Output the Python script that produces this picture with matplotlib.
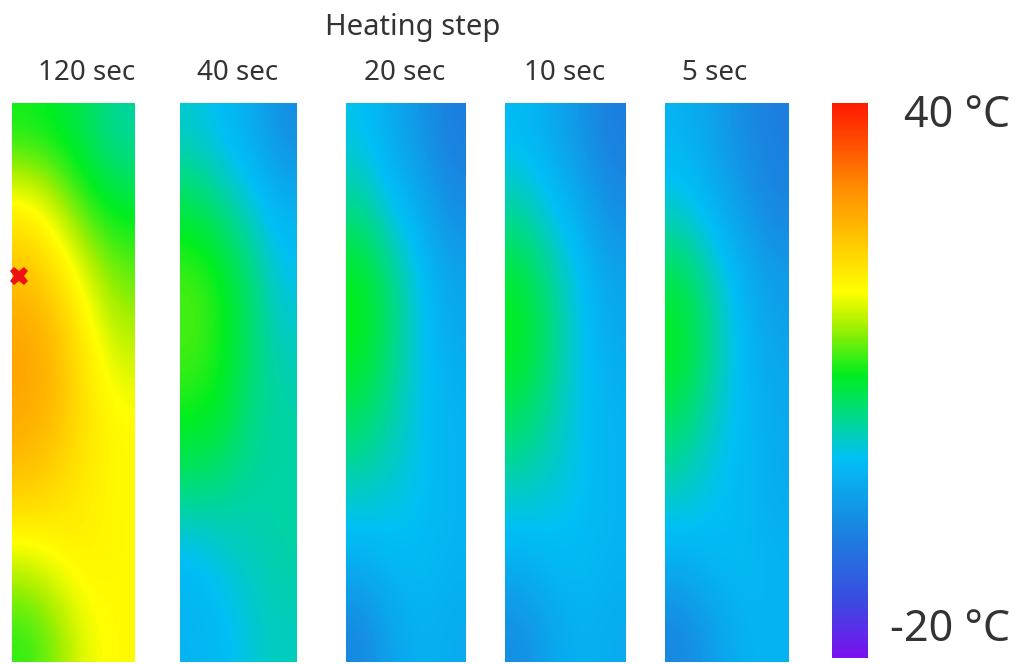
import numpy as np
import matplotlib.pyplot as plt
from matplotlib.colors import LinearSegmentedColormap

# heating step durations shown above each panel
steps = ['120 sec', '40 sec', '20 sec', '10 sec', '5 sec']

# temperature fields (deg C), coarse grid: 8 rows (top->bottom) x 4 cols (left->right)
temp_120 = [[11, 10, 8, 5],
            [21, 17, 12, 10],
            [26, 23, 18, 14],
            [29, 26, 21, 17],
            [28, 26, 22, 20],
            [25, 23, 21, 20],
            [18, 20, 21, 20],
            [12, 15, 19, 20]]
temp_40 = [[3, 1, -1, -5],
           [9, 6, 3, 0],
           [13, 11, 7, 2],
           [13, 11, 7, 4],
           [11, 10, 6, 5],
           [7, 6, 5, 5],
           [1, 3, 4, 5],
           [0, 1, 3, 4]]
temp_20 = [[2, -1, -4, -7],
           [6, 2, -1, -5],
           [11, 7, 2, -2],
           [11, 7, 2, -1],
           [8, 5, 2, 0],
           [4, 3, 2, 0],
           [0, 1, 1, 0],
           [-6, -2, 0, -1]]
temp_10 = [[1, -1, -4, -7],
           [5, 2, -1, -5],
           [10, 6, 2, -2],
           [11, 7, 2, -1],
           [8, 5, 2, 0],
           [4, 3, 2, 0],
           [0, 1, 1, 0],
           [-5, -2, 0, -1]]
temp_5 = [[0, -2, -5, -7],
          [3, 0, -3, -6],
          [9, 5, 0, -3],
          [11, 6, 1, -2],
          [8, 4, 1, -1],
          [4, 2, 1, -1],
          [0, 1, 1, 0],
          [-6, -3, 0, 0]]
fields = [temp_120, temp_40, temp_20, temp_10, temp_5]

# scale limits and measuring point (fraction of panel width / height from top)
t_min, t_max = -20, 40
probe_x, probe_y = 0.06, 0.31

# rainbow scale as on the colour bar
cmap = LinearSegmentedColormap.from_list('thermo', [
    (0.00, '#7a10f0'), (0.10, '#3a4ae0'), (0.23, '#1a84e0'), (0.36, '#00c0f5'),
    (0.43, '#00d890'), (0.51, '#00ee20'), (0.60, '#a8f000'), (0.66, '#ffff00'),
    (0.75, '#ffc800'), (0.85, '#ff8c00'), (0.92, '#ff5500'), (1.00, '#ff1a00')])

W, H = 1018, 664
fig = plt.figure(figsize=(W / 100, H / 100), dpi=100)
plt.rcParams['font.family'] = ['Noto Sans', 'DejaVu Sans']
txt = '#333333'

# panel pixel boxes (left, right) and title centres
boxes = [(12, 135), (180, 297), (346, 466), (505, 626), (665, 789)]
title_x = [87, 238, 405, 565, 715]
top, bottom = 103, 662

for i, (field, (x0, x1)) in enumerate(zip(fields, boxes)):
    ax = fig.add_axes([x0 / W, 1 - bottom / H, (x1 - x0) / W, (bottom - top) / H])
    im = ax.imshow(np.array(field, dtype=float), cmap=cmap, vmin=t_min, vmax=t_max,
                   aspect='auto', interpolation='bicubic', extent=(0, 1, 1, 0))
    ax.set_xlim(0, 1)
    ax.set_ylim(1, 0)
    ax.axis('off')
    if i == 0:
        ax.plot(probe_x, probe_y, marker='X', color='#ee1111', markersize=13,
                markeredgewidth=0, clip_on=False)
    fig.text(title_x[i] / W, 1 - 73 / H, steps[i], ha='center', va='center',
             fontsize=20, color=txt)

fig.text(413 / W, 1 - 28 / H, 'Heating step', ha='center', va='center',
         fontsize=21, color=txt)

# colour bar
cax = fig.add_axes([832 / W, 1 - 658 / H, 36 / W, 555 / H])
cb = fig.colorbar(im, cax=cax)
cb.outline.set_visible(False)
cb.set_ticks([])
fig.text(1010 / W, 1 - 116 / H, f'{t_max} °C', ha='right', va='center', fontsize=31, color=txt)
fig.text(1010 / W, 1 - 630 / H, f'{t_min} °C', ha='right', va='center', fontsize=31, color=txt)

fig.savefig('out.png', dpi=100)
